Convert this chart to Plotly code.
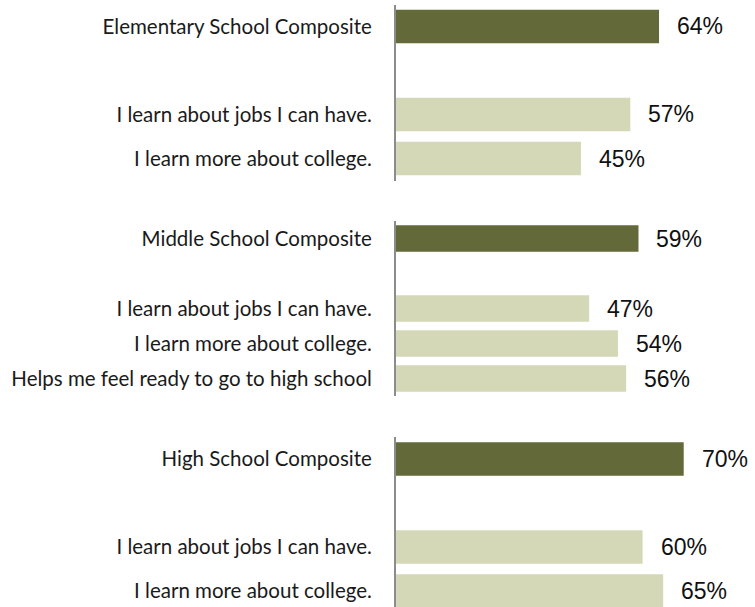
import plotly.graph_objects as go

# ---- data ----
group_labels = ["Elementary School Composite", "Middle School Composite", "High School Composite"]
composite_values = [64, 59, 70]
elem_items = ["I learn about jobs I can have.", "I learn more about college."]
elem_values = [57, 45]
middle_items = ["I learn about jobs I can have.", "I learn more about college.",
                "Helps me feel ready to go to high school"]
middle_values = [47, 54, 56]
high_items = ["I learn about jobs I can have.", "I learn more about college."]
high_values = [60, 65]

item_lists = [elem_items, middle_items, high_items]
value_lists = [elem_values, middle_values, high_values]

DARK = "#636938"
LIGHT = "#D4D8B6"
W, H = 755, 607
x0px = 396
xmax = (W - x0px) / 4.11

# panel geometry in pixels (top, row height, bottom)
panels = [
    dict(top=4.5, row=44.0, bottom=180.5),
    dict(top=221.0, row=35.0, bottom=396.0),
    dict(top=437.0, row=44.0, bottom=607.0),
]

fig = go.Figure()
layout = dict(
    width=W, height=H, margin=dict(l=0, r=0, t=0, b=0),
    paper_bgcolor="white", plot_bgcolor="white", showlegend=False,
)
annotations = []
for i in range(3):
    xa = "x" if i == 0 else f"x{i+1}"
    ya = "y" if i == 0 else f"y{i+1}"
    labels = [group_labels[i], ""] + item_lists[i]
    vals = [composite_values[i], None] + value_lists[i]
    pos = list(range(len(labels)))
    colors = [DARK, LIGHT] + [LIGHT] * len(item_lists[i])
    fig.add_trace(go.Bar(
        x=vals, y=pos, orientation="h", xaxis=xa, yaxis=ya,
        marker=dict(color=colors, line=dict(width=0)), width=0.76,
        hoverinfo="skip",
    ))
    for p, v in zip(pos, vals):
        if v is None:
            continue
        annotations.append(dict(
            x=v, y=p, xref=xa, yref=ya, text=f"{v}%", showarrow=False,
            xanchor="left", yanchor="middle", xshift=16,
            font=dict(family="Liberation Sans, Arial", size=23, color="#111111"),
        ))
    g = panels[i]
    bottom_row = (g["bottom"] - g["top"]) / g["row"] - 0.5
    xkey = "xaxis" if i == 0 else f"xaxis{i+1}"
    ykey = "yaxis" if i == 0 else f"yaxis{i+1}"
    layout[xkey] = dict(domain=[x0px / W, 1], range=[0, xmax], anchor=ya,
                        visible=False, fixedrange=True)
    layout[ykey] = dict(
        domain=[1 - g["bottom"] / H, 1 - g["top"] / H],
        range=[bottom_row, -0.5], anchor=xa,
        tickvals=pos, ticktext=labels, ticks="", showgrid=False, zeroline=False,
        showline=True, linecolor="#8c8c8c", linewidth=2,
        ticklabelstandoff=18,
        tickfont=dict(family="Lato, sans-serif", size=20.5, color="#1a1a1a"),
    )
layout["annotations"] = annotations
fig.update_layout(**layout)
fig.write_html("out.html")
